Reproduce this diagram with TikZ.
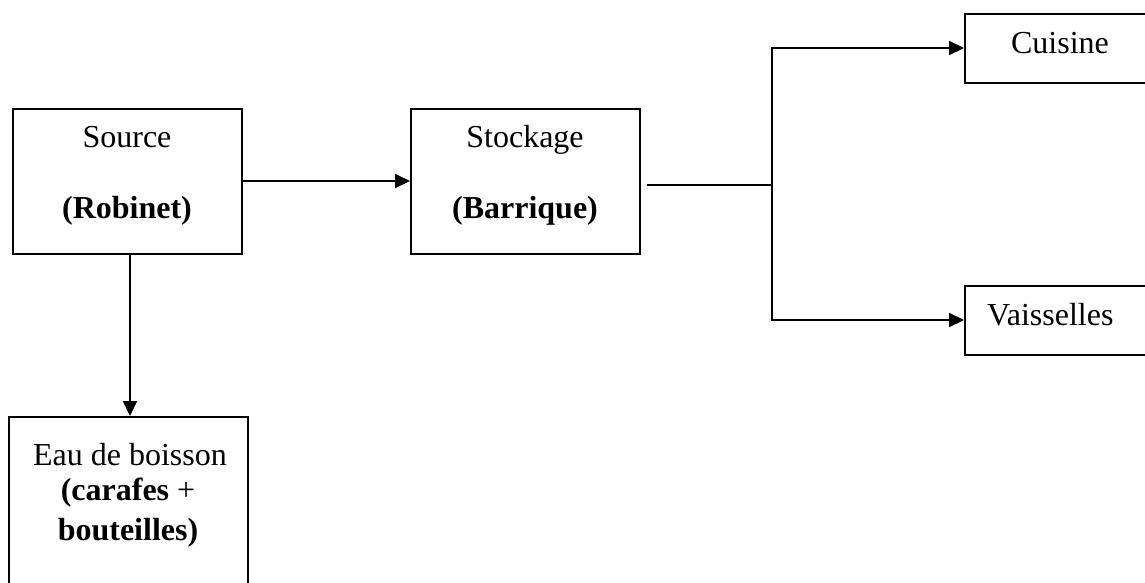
\documentclass[tikz,border=0pt]{standalone}
\usepackage{fontspec}
\setmainfont{Liberation Serif}
\usetikzlibrary{arrows.meta}
\begin{document}
\begin{tikzpicture}[x=1pt,y=-1pt,
  box/.style={draw=black, line width=2pt, rectangle, inner sep=0pt},
  txt/.style={inner sep=0pt, anchor=base, font=\fontsize{32}{38}\selectfont},
  conn/.style={draw=black, line width=2pt, line join=miter},
  arr/.style={conn, -{Triangle[length=15pt,width=14pt]}}]
\useasboundingbox (0,0) rectangle (1145,582);
\clip (0,0) rectangle (1145,582);
\fill[white] (0,0) rectangle (1145,582);
% boxes
\node[box, minimum width=229pt, minimum height=145pt] (src) at (127.5,181) {};
\node[box, minimum width=229pt, minimum height=145pt] (stk) at (525.5,181) {};
\node[box, minimum width=190pt, minimum height=69pt] (cui) at (1060,48) {};
\node[box, minimum width=190pt, minimum height=69pt] (vai) at (1060,320) {};
\node[box, minimum width=239pt, minimum height=193pt] (eau) at (128.5,513.5) {};
% texts
\node[txt] (srcA) at (127,147) {Source};
\node[txt] (srcB) at (127,218) {\textbf{(Robinet)}};
\node[txt] (stkA) at (525,147) {Stockage};
\node[txt] (stkB) at (525,218) {\textbf{(Barrique)}};
\node[txt] (cuiT) at (1060,53) {Cuisine};
\node[txt, anchor=base west] (vaiT) at (987,325) {Vaisselles};
\node[txt] (eauA) at (130,465) {Eau de boisson};
\node[txt] (eauB) at (128,500) {\textbf{(carafes} +};
\node[txt] (eauC) at (128,540) {\textbf{bouteilles)}};
% connectors
\draw[arr] (src.east) -- (stk.west);
\draw[arr] ([xshift=2.5pt]src.south) -- ([xshift=2.5pt]src.south |- eau.north);
\coordinate (j1) at (647,185);
\coordinate (jn) at (772,185);
\draw[conn] (j1) -- (jn);
\draw[arr] (jn) |- (cui.west);
\draw[arr] (jn) |- (vai.west);
\end{tikzpicture}
\end{document}
